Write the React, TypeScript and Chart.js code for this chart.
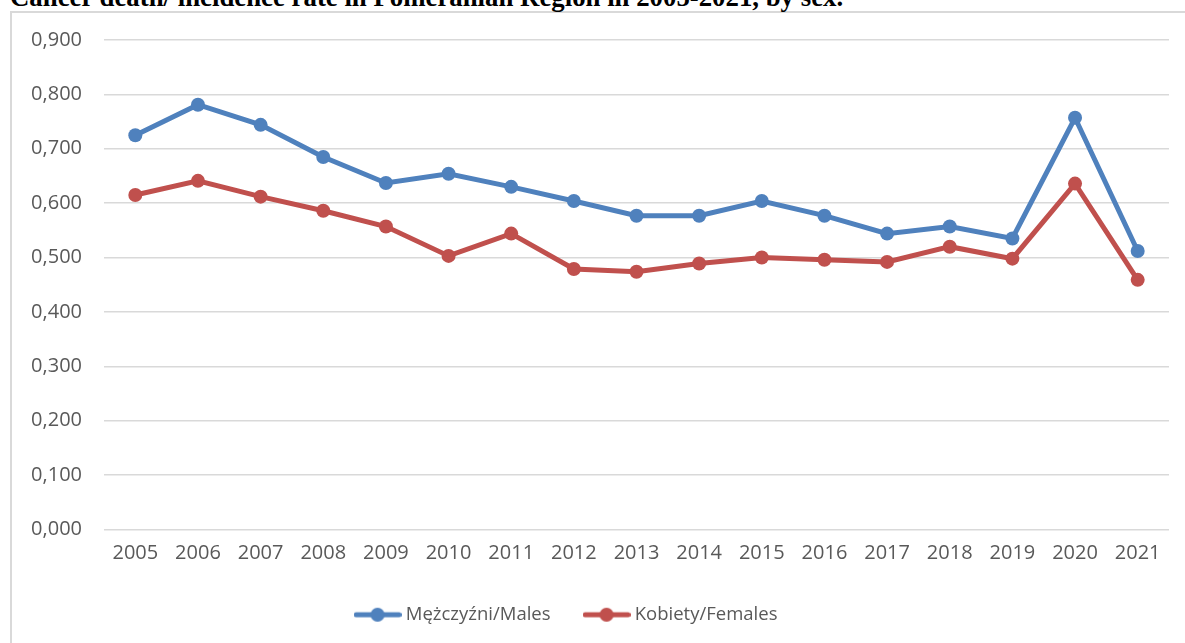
import React, { useEffect, useRef } from 'react';
import { Chart, registerables } from 'chart.js';

Chart.register(...registerables);

const titleText = 'Cancer death/ incidence rate in Pomeranian Region in 2005-2021, by sex.';
const years = ['2005', '2006', '2007', '2008', '2009', '2010', '2011', '2012', '2013', '2014', '2015', '2016', '2017', '2018', '2019', '2020', '2021'];
const males = [0.725, 0.781, 0.744, 0.685, 0.637, 0.654, 0.630, 0.604, 0.577, 0.577, 0.604, 0.577, 0.544, 0.557, 0.535, 0.757, 0.512];
const females = [0.615, 0.641, 0.612, 0.586, 0.557, 0.503, 0.544, 0.479, 0.474, 0.489, 0.500, 0.496, 0.492, 0.520, 0.498, 0.636, 0.459];
const seriesNames = ['Mężczyźni/Males', 'Kobiety/Females'];
const seriesColors = ['#4F81BD', '#C0504D'];
const yMin = 0;
const yMax = 0.9;
const yStep = 0.1;

const FONT = "'Open Sans', 'Noto Sans', sans-serif";
const TEXT_COLOR = '#595959';

function makeMarker(color: string): HTMLCanvasElement {
  const c = document.createElement('canvas');
  c.width = 48;
  c.height = 16;
  const ctx = c.getContext('2d')!;
  ctx.strokeStyle = color;
  ctx.lineWidth = 5;
  ctx.lineCap = 'round';
  ctx.beginPath();
  ctx.moveTo(2.5, 8);
  ctx.lineTo(45.5, 8);
  ctx.stroke();
  ctx.fillStyle = color;
  ctx.beginPath();
  ctx.arc(24, 8, 7, 0, Math.PI * 2);
  ctx.fill();
  return c;
}

export default function App() {
  const canvasRef = useRef<HTMLCanvasElement | null>(null);

  useEffect(() => {
    const canvas = canvasRef.current;
    if (!canvas) return;
    const markers = seriesColors.map(makeMarker);
    const chart = new Chart(canvas, {
      type: 'line',
      data: {
        labels: years,
        datasets: [
          {
            label: seriesNames[0],
            data: males,
            borderColor: seriesColors[0],
            backgroundColor: seriesColors[0],
            borderWidth: 5,
            pointRadius: 7,
            pointHoverRadius: 7,
            pointBorderWidth: 0,
            tension: 0,
          },
          {
            label: seriesNames[1],
            data: females,
            borderColor: seriesColors[1],
            backgroundColor: seriesColors[1],
            borderWidth: 5,
            pointRadius: 7,
            pointHoverRadius: 7,
            pointBorderWidth: 0,
            tension: 0,
          },
        ],
      },
      options: {
        responsive: false,
        animation: false,
        devicePixelRatio: 1,
        layout: { padding: { top: 40, left: 0, right: 16, bottom: 9 } },
        plugins: {
          tooltip: { enabled: false },
          legend: {
            position: 'bottom',
            labels: {
              usePointStyle: true,
              pointStyleWidth: 38,
              padding: 37,
              color: TEXT_COLOR,
              font: { family: FONT, size: 18.5 },
              generateLabels: (ch: any) =>
                ch.data.datasets.map((ds: any, i: number) => ({
                  text: ds.label,
                  pointStyle: markers[i],
                  fillStyle: seriesColors[i],
                  strokeStyle: seriesColors[i],
                  lineWidth: 0,
                  hidden: false,
                  datasetIndex: i,
                  fontColor: TEXT_COLOR,
                })),
            },
          },
        },
        scales: {
          x: {
            offset: true,
            grid: { display: false, drawTicks: false },
            border: { display: false },
            ticks: {
              color: TEXT_COLOR,
              font: { family: FONT, size: 20 },
              padding: 12,
              maxRotation: 0,
              autoSkip: false,
            },
            afterFit: (s: any) => {
              s.height = 39;
            },
          },
          y: {
            min: yMin,
            max: yMax,
            grid: { color: '#d9d9d9', lineWidth: 1.5, drawTicks: false },
            border: { display: false },
            ticks: {
              stepSize: yStep,
              color: TEXT_COLOR,
              font: { family: FONT, size: 20 },
              padding: 22,
              callback: (v: any) => Number(v).toFixed(3).replace('.', ','),
            },
            afterFit: (s: any) => {
              s.width = 137;
            },
          },
        },
      },
    });
    return () => chart.destroy();
  }, []);

  return (
    <div
      style={{
        position: 'absolute',
        left: 0,
        top: 0,
        width: 1185,
        height: 643,
        overflow: 'hidden',
        background: '#ffffff',
      }}
    >
      <div
        style={{
          position: 'absolute',
          left: 10,
          top: 11,
          width: 1300,
          height: 800,
          border: '2px solid #d9d9d9',
          boxSizing: 'border-box',
        }}
      />
      <div
        style={{
          position: 'absolute',
          left: 10,
          top: -16,
          fontFamily: "'Liberation Serif', 'Times New Roman', serif",
          fontWeight: 'bold',
          fontSize: 26.8,
          lineHeight: '26.8px',
          whiteSpace: 'nowrap',
          color: '#000',
        }}
      >
        {titleText}
      </div>
      <canvas
        ref={canvasRef}
        width={1218}
        height={643}
        style={{ position: 'absolute', left: -33, top: 0, width: 1218, height: 643 }}
      />
    </div>
  );
}
